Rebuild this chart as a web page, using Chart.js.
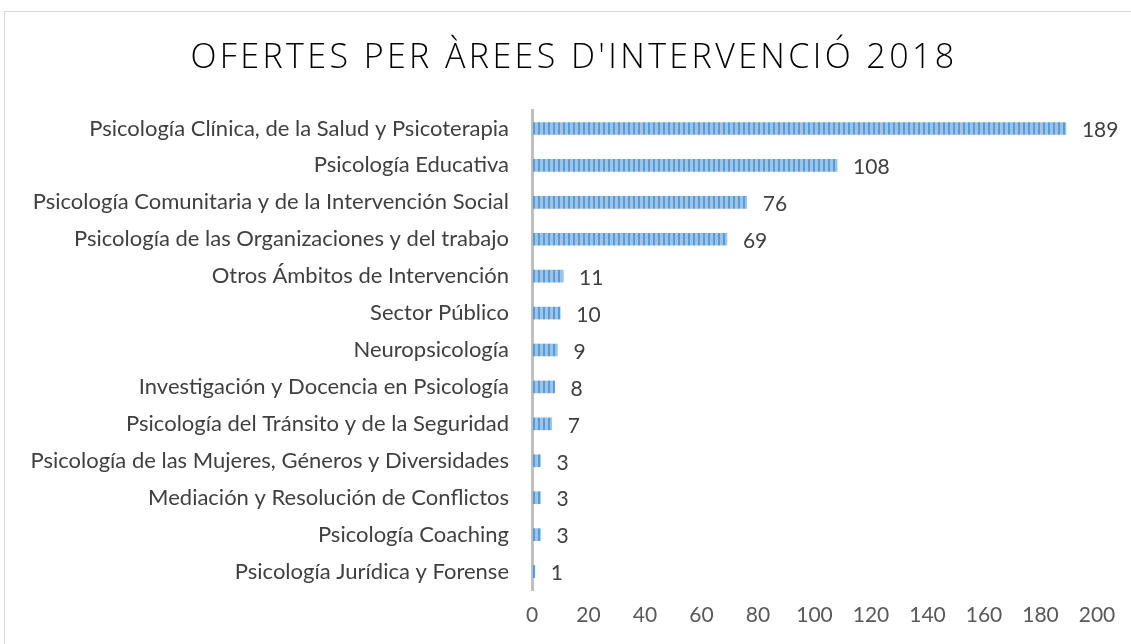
<!DOCTYPE html>
<html><head><meta charset="utf-8">
<script src="https://cdn.jsdelivr.net/npm/chart.js@4.4.1/dist/chart.umd.min.js"></script>
<style>html,body{margin:0;padding:0;background:#fff}#wrap{width:1131px;height:644px;position:relative}</style>
</head><body><div id="wrap"><canvas id="c" width="1131" height="644"></canvas></div>
<script>
const chartTitle = "OFERTES PER ÀREES D'INTERVENCIÓ 2018";
const categories = [
  "Psicología Clínica, de la Salud y Psicoterapia",
  "Psicología Educativa",
  "Psicología Comunitaria y de la Intervención Social",
  "Psicología de las Organizaciones y del trabajo",
  "Otros Ámbitos de Intervención",
  "Sector Público",
  "Neuropsicología",
  "Investigación y Docencia en Psicología",
  "Psicología del Tránsito y de la Seguridad",
  "Psicología de las Mujeres, Géneros y Diversidades",
  "Mediación y Resolución de Conflictos",
  "Psicología Coaching",
  "Psicología Jurídica y Forense"
];
const offers = [189, 108, 76, 69, 11, 10, 9, 8, 7, 3, 3, 3, 1];
const axisMin = 0, axisMax = 200, axisStep = 20;

const FONT = "Lato, 'Open Sans', 'DejaVu Sans', sans-serif";
const TFONT = "'Open Sans', 'DejaVu Sans', sans-serif";

function makePattern(ctx) {
  const p = document.createElement('canvas');
  p.width = 5; p.height = 12;
  const g = p.getContext('2d');
  g.fillStyle = '#9dc3e6'; g.fillRect(0, 0, 5, 12);
  g.fillStyle = '#5b9bd5'; g.fillRect(3, 0, 2, 12);
  return ctx.createPattern(p, 'repeat');
}

const frame = {
  id: 'frame',
  beforeDraw(chart) {
    const ctx = chart.ctx;
    ctx.save();
    ctx.strokeStyle = '#d9d9d9'; ctx.lineWidth = 1;
    ctx.strokeRect(4.5, 11.5, 1200, 700);
    ctx.fillStyle = '#000';
    ctx.font = "300 34px " + TFONT;
    if ('letterSpacing' in ctx) ctx.letterSpacing = '3.4px';
    ctx.textAlign = 'center'; ctx.textBaseline = 'middle';
    ctx.fillText(chartTitle, 574, 58);
    ctx.restore();
  },
  afterDatasetsDraw(chart) {
    const ctx = chart.ctx;
    const meta = chart.getDatasetMeta(0);
    ctx.save();
    ctx.fillStyle = '#404040';
    ctx.font = "21px " + FONT;
    ctx.textAlign = 'left'; ctx.textBaseline = 'middle';
    meta.data.forEach((el, i) => {
      ctx.fillText(String(offers[i]), el.x + 16, el.y + 2);
    });
    ctx.restore();
  }
};

const ctx = document.getElementById('c').getContext('2d');
new Chart(ctx, {
  type: 'bar',
  data: {
    labels: categories,
    datasets: [{
      data: offers,
      backgroundColor: makePattern(ctx),
      borderWidth: 0,
      barThickness: 12
    }]
  },
  options: {
    indexAxis: 'y',
    responsive: false,
    animation: false,
    layout: { padding: { top: 110, right: 34, bottom: 14, left: 0 } },
    plugins: { legend: { display: false }, tooltip: { enabled: false }, title: { display: false } },
    scales: {
      x: {
        min: axisMin, max: axisMax,
        grid: { display: false, drawTicks: false },
        border: { display: false },
        ticks: { stepSize: axisStep, color: '#595959', font: { family: FONT, size: 21 }, padding: 13, maxRotation: 0 },
        afterFit(s) { s.height = 40; }
      },
      y: {
        grid: { display: false, drawTicks: false },
        border: { display: true, color: '#bfbfbf', width: 3 },
        ticks: { color: '#404040', font: { family: FONT, size: 22 }, padding: 23, autoSkip: false },
        afterFit(s) { s.width = 532; }
      }
    }
  },
  plugins: [frame]
});
</script>
</body></html>
